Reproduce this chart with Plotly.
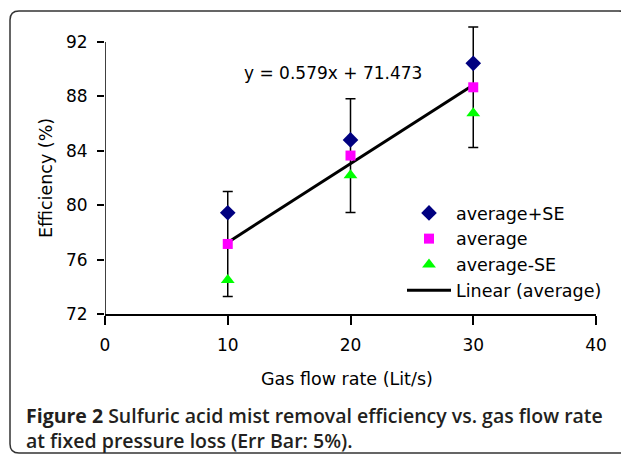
import plotly.graph_objects as go

# ---- data ----
flow = [10, 20, 30]
avg_plus_se = [79.45, 84.8, 90.43]
average = [77.15, 83.65, 88.67]
avg_minus_se = [74.5, 82.2, 86.76]
err_percent = 5
trend_slope = 0.579
trend_intercept = 71.473
trend_x = [10, 30]
x_ticks = [0, 10, 20, 30, 40]
y_ticks = [72, 76, 80, 84, 88, 92]

trend_y = [trend_slope * v + trend_intercept for v in trend_x]

# page has an 8px body margin; layout values are in figure pixels
OFF = 8
W, H = 621, 446
L, R, T, B = 97, 33, 14, 140
pw, ph = W - L - R, H - T - B
Y_LO, Y_HI = 72, 92
y_top = Y_HI + (34 - T) * (Y_HI - Y_LO) / 272.0


def px(xp):
    return (xp - OFF - L) / pw


def py(yp):
    return (H - B - (yp - OFF)) / ph


FONT = "DejaVu Sans"

fig = go.Figure()

# error bars (5% of average)
fig.add_trace(go.Scatter(
    x=flow, y=average, mode="markers",
    marker=dict(size=1, opacity=0),
    error_y=dict(type="percent", value=err_percent, color="black",
                 thickness=1.5, width=5),
    showlegend=False, hoverinfo="skip", cliponaxis=False))

fig.add_trace(go.Scatter(
    x=trend_x, y=trend_y, mode="lines", name="Linear (average)",
    line=dict(color="black", width=3), legendrank=4, cliponaxis=False))

fig.add_trace(go.Scatter(
    x=flow, y=avg_plus_se, mode="markers", name="average+SE",
    marker=dict(symbol="diamond", size=12, color="#000080"),
    legendrank=1, cliponaxis=False))
fig.add_trace(go.Scatter(
    x=flow, y=average, mode="markers", name="average",
    marker=dict(symbol="square", size=10, color="#FF00FF"),
    legendrank=2, cliponaxis=False))
fig.add_trace(go.Scatter(
    x=flow, y=avg_minus_se, mode="markers", name="average-SE",
    marker=dict(symbol="triangle-up", size=12, color="#00FF00"),
    legendrank=3, cliponaxis=False))

axis_common = dict(showgrid=False, zeroline=False, ticks="outside",
                   tickcolor="black", tickwidth=1.5,
                   tickfont=dict(family=FONT, size=17, color="black"))

fig.update_xaxes(range=[0, 40], tickvals=x_ticks, ticklen=9,
                 showline=True, linecolor="black", linewidth=1.5,
                 ticklabelstandoff=6, **axis_common)
fig.update_yaxes(range=[Y_LO, y_top], tickvals=y_ticks, ticklen=7,
                 showline=False, ticklabelstandoff=6, **axis_common)

r = 9
x0, x1, y0, y1 = px(10), px(628), py(11), py(453)
rx, ry = r / pw, r / ph
path = (f"M{x0+rx},{y0} L{x1-rx},{y0} Q{x1},{y0} {x1},{y0-ry} "
        f"L{x1},{y1+ry} Q{x1},{y1} {x1-rx},{y1} L{x0+rx},{y1} "
        f"Q{x0},{y1} {x0},{y1+ry} L{x0},{y0-ry} Q{x0},{y0} {x0+rx},{y0} Z")

CAP_COLOR = "#231f20"

fig.update_layout(
    width=W, height=H,
    margin=dict(l=L, r=R, t=T, b=B),
    paper_bgcolor="white", plot_bgcolor="white",
    font=dict(family=FONT, size=17, color="black"),
    showlegend=True,
    legend=dict(x=px(402), y=py(195), xanchor="left", yanchor="top",
                bgcolor="rgba(0,0,0,0)", font=dict(family=FONT, size=17.5),
                itemwidth=44, itemclick=False),
    shapes=[
        dict(type="path", xref="paper", yref="paper", path=path,
             line=dict(color="#333333", width=1.5), layer="below"),
        # y axis line, only from 72 to 92
        dict(type="line", xref="x", yref="y", x0=0, x1=0, y0=Y_LO, y1=Y_HI,
             line=dict(color="black", width=1.5)),
    ],
    annotations=[
        dict(text="y = 0.579x + 71.473", xref="paper", yref="paper",
             x=px(333), y=py(73), xanchor="center", yanchor="middle",
             showarrow=False, font=dict(family=FONT, size=17)),
        dict(text="Gas flow rate (Lit/s)", xref="paper", yref="paper",
             x=px(347), y=py(379), xanchor="center", yanchor="middle",
             showarrow=False, font=dict(family=FONT, size=17.5)),
        dict(text="Efficiency (%)", xref="paper", yref="paper",
             x=px(46), y=py(178), xanchor="center", yanchor="middle",
             showarrow=False, textangle=-90,
             font=dict(family=FONT, size=17.5)),
        dict(text=("<b>Figure 2</b> Sulfuric acid mist removal efficiency vs. gas flow rate"
                   "<br>at fixed pressure loss (Err Bar: 5%)."),
             xref="paper", yref="paper", x=px(24), y=py(428),
             xanchor="left", yanchor="middle", align="left", showarrow=False,
             font=dict(family="Open Sans", size=19.5, weight=600,
                       color=CAP_COLOR)),
    ],
)

fig.write_html("out.html")
